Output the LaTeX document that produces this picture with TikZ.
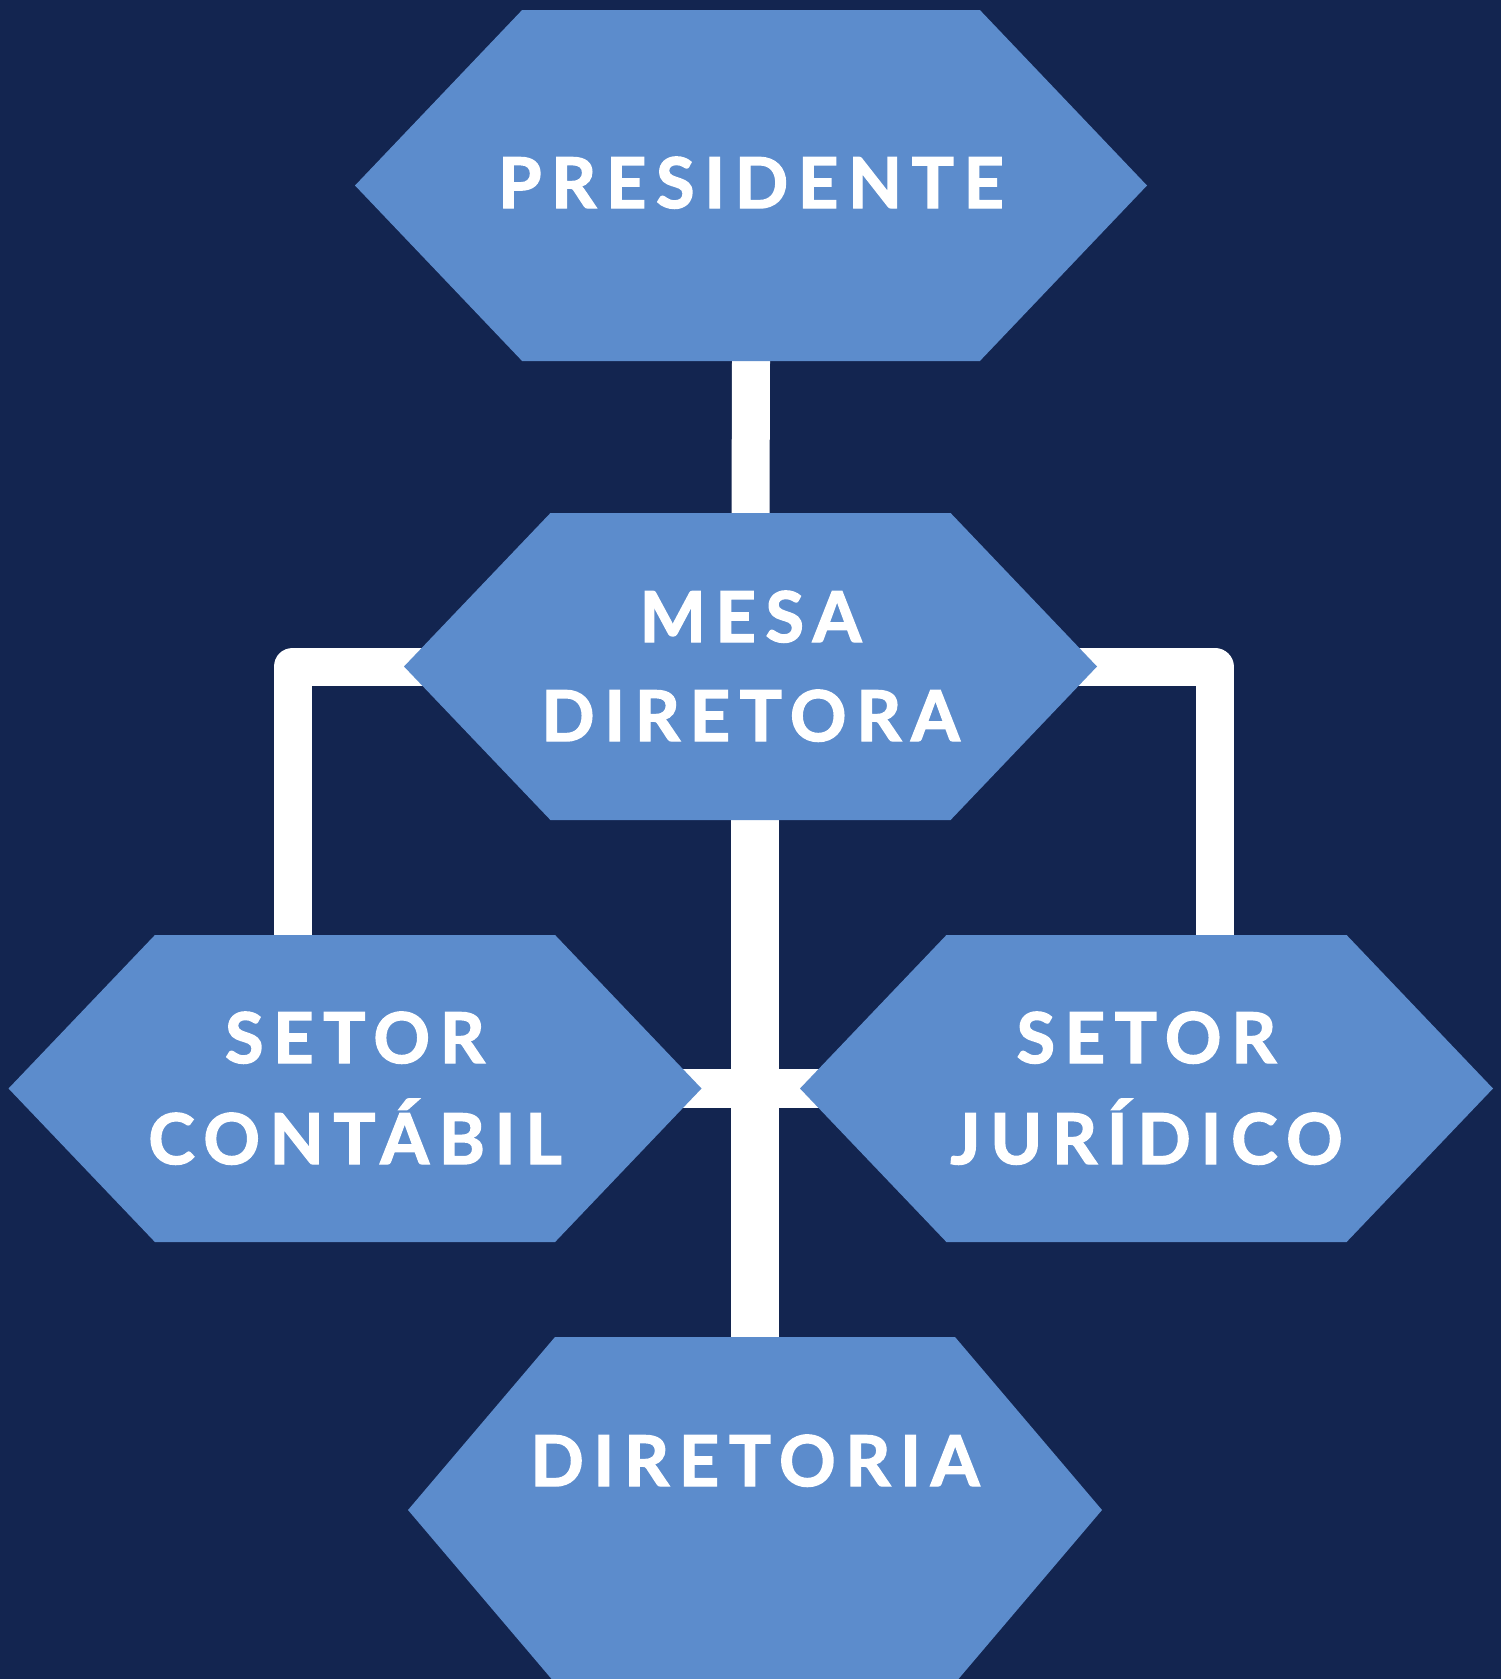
\documentclass[tikz,border=0pt]{standalone}
\usepackage{fontspec}
\newfontfamily\hexfont[LetterSpace=14,BoldFeatures={FakeBold=2}]{Lato}
\usetikzlibrary{shapes.symbols}
\definecolor{navy}{RGB}{19,37,80}
\definecolor{hexblue}{RGB}{92,140,204}
\pgfdeclarelayer{back}
\pgfsetlayers{back,main}
% one line of a label, its baseline raised by #1 from the node centre
\newcommand\hexline[2]{\makebox[0pt]{\raisebox{#1}[0pt][0pt]{#2}}}

\begin{document}
\begin{tikzpicture}[x=1pt,y=-1pt,
  hexbox/.style={shape=signal, signal to=west and east, fill=hexblue,
    inner sep=0pt, outer sep=0pt, text=white,
    font=\hexfont\fontsize{70}{84}\selectfont\bfseries},
  link/.style={draw=white, line width=38pt, line join=round}]
\useasboundingbox (0,0) rectangle (1501,1679);

\node[hexbox, signal pointer angle=92.8, minimum width=792pt, minimum height=351pt] (pres) at (751,185.5) {\hexline{-22.5pt}{PRESIDENTE}};
\node[hexbox, signal pointer angle=92.7, minimum width=693pt, minimum height=307pt] (mesa) at (750.5,666.5) {\hexline{24.5pt}{MESA}\hexline{-74.5pt}{DIRETORA}};
\node[hexbox, signal pointer angle=92.7, minimum width=693pt, minimum height=307pt] (cont) at (355,1088.5) {\hexline{25.5pt}{SETOR}\hexline{-75.5pt}{CONTÁBIL}};
\node[hexbox, signal pointer angle=92.7, minimum width=693pt, minimum height=307pt] (juri) at (1146.5,1088.5) {\hexline{25.5pt}{SETOR}\hexline{-75.5pt}{JURÍDICO}};
\node[hexbox, signal pointer angle=99.3, minimum width=694pt, minimum height=346pt] (dir) at (755,1510) {\hexline{24pt}{DIRETORIA}};

\begin{pgfonlayer}{back}
\fill[navy] (0,0) rectangle (1501,1679);
\path[link] (pres.south) -- (mesa.north);
\path[link] (mesa.center) -| ([xshift=-62.5pt]cont.north);
\path[link] (mesa.center) -| ([xshift=68pt]juri.north);
\path[link, line width=48pt] (mesa.south -| dir.north) -- (dir.north);
\path[link, line width=39pt] (cont.center) -- (juri.center);
\end{pgfonlayer}
\end{tikzpicture}
\end{document}
